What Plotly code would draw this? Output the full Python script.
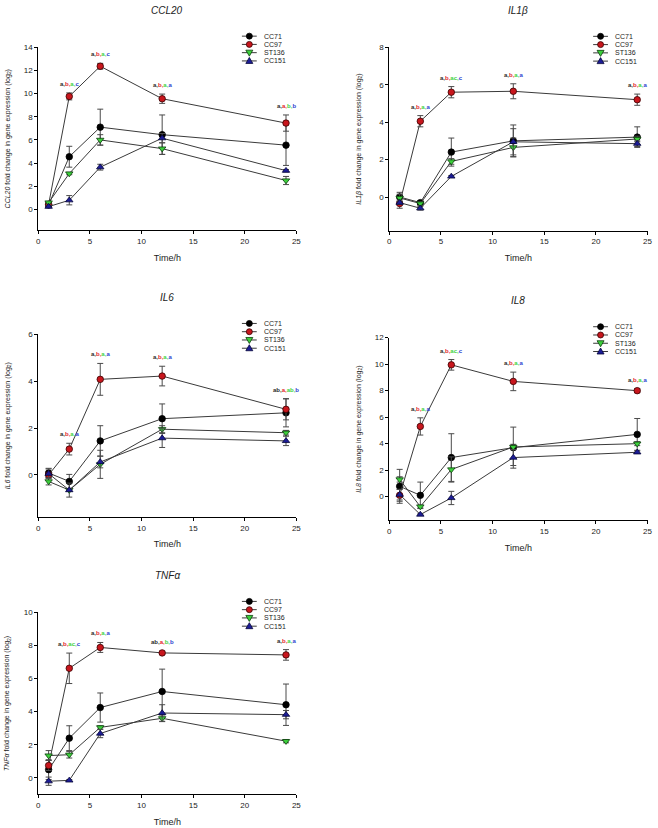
import plotly.graph_objects as go

W, H = 658, 828
FONT = "Liberation Sans, Arial, sans-serif"

times = [1, 3, 6, 12, 24]
strains = ["CC71", "CC97", "ST136", "CC151"]
letter_times = [3, 6, 12, 24]

# ---- CCL20 ----
ccl20_cc71 = [0.40, 4.55, 7.10, 6.45, 5.55]
ccl20_cc71_err = [0.15, 0.90, 1.55, 1.70, 1.75]
ccl20_cc97 = [0.45, 9.75, 12.35, 9.55, 7.45]
ccl20_cc97_err = [0.15, 0.30, 0.25, 0.40, 0.70]
ccl20_st136 = [0.60, 3.10, 6.00, 5.25, 2.50]
ccl20_st136_err = [0.10, 0.10, 0.45, 0.50, 0.35]
ccl20_cc151 = [0.25, 0.80, 3.65, 6.15, 3.35]
ccl20_cc151_err = [0.10, 0.40, 0.25, 0.40, 0.10]
ccl20_letters = [["a", "b", "a", "c"], ["a", "b", "a", "c"], ["a", "b", "a", "a"], ["a", "a", "b", "b"]]

# ---- IL1beta ----
il1b_cc71 = [0.00, -0.30, 2.40, 3.00, 3.20]
il1b_cc71_err = [0.25, 0.10, 0.75, 0.85, 0.55]
il1b_cc97 = [-0.35, 4.05, 5.60, 5.65, 5.20]
il1b_cc97_err = [0.25, 0.30, 0.30, 0.40, 0.30]
il1b_st136 = [-0.05, -0.35, 1.90, 2.65, 3.10]
il1b_st136_err = [0.20, 0.10, 0.15, 0.50, 0.15]
il1b_cc151 = [-0.30, -0.60, 1.10, 2.95, 2.85]
il1b_cc151_err = [0.10, 0.10, 0.05, 0.70, 0.15]
il1b_letters = [["a", "b", "a", "a"], ["a", "b", "ac", "c"], ["a", "b", "a", "a"], ["a", "b", "a", "a"]]

# ---- IL6 ----
il6_cc71 = [0.08, -0.28, 1.45, 2.40, 2.65]
il6_cc71_err = [0.20, 0.30, 0.65, 0.63, 0.60]
il6_cc97 = [0.00, 1.10, 4.08, 4.22, 2.80]
il6_cc97_err = [0.10, 0.25, 0.68, 0.42, 0.45]
il6_st136 = [-0.28, -0.65, 0.45, 1.95, 1.80]
il6_st136_err = [0.15, 0.30, 0.60, 0.15, 0.10]
il6_cc151 = [0.05, -0.65, 0.55, 1.57, 1.45]
il6_cc151_err = [0.20, 0.05, 0.25, 0.40, 0.20]
il6_letters = [["a", "b", "a", "a"], ["a", "b", "a", "a"], ["a", "b", "a", "a"], ["ab", "a", "ab", "b"]]

# ---- IL8 ----
il8_cc71 = [0.78, 0.10, 2.95, 3.70, 4.70]
il8_cc71_err = [1.28, 1.00, 1.80, 1.55, 1.20]
il8_cc97 = [0.10, 5.30, 9.95, 8.70, 8.00]
il8_cc97_err = [0.45, 0.65, 0.40, 0.70, 0.15]
il8_st136 = [1.30, -0.75, 2.05, 3.75, 4.00]
il8_st136_err = [0.20, 0.10, 0.95, 0.20, 0.15]
il8_cc151 = [0.15, -1.35, -0.10, 2.95, 3.35]
il8_cc151_err = [0.40, 0.05, 0.50, 0.60, 0.10]
il8_letters = [["a", "b", "a", "a"], ["a", "b", "ac", "c"], ["a", "b", "a", "a"], ["a", "b", "a", "a"]]

# ---- TNFalpha ----
tnfa_cc71 = [0.50, 2.40, 4.25, 5.22, 4.42]
tnfa_cc71_err = [0.60, 0.75, 0.88, 1.35, 1.25]
tnfa_cc97 = [0.75, 6.62, 7.88, 7.55, 7.43]
tnfa_cc97_err = [0.30, 0.92, 0.30, 0.10, 0.32]
tnfa_st136 = [1.35, 1.40, 3.05, 3.60, 2.22]
tnfa_st136_err = [0.30, 0.20, 0.10, 0.20, 0.10]
tnfa_cc151 = [-0.20, -0.15, 2.68, 3.92, 3.82]
tnfa_cc151_err = [0.25, 0.05, 0.25, 0.50, 0.25]
tnfa_letters = [["a", "b", "ac", "c"], ["a", "b", "a", "a"], ["ab", "a", "b", "b"], ["a", "b", "a", "a"]]

# ---- styles ----
marker_fill = {"CC71": "#000000", "CC97": "#c8161d", "ST136": "#3ccf3c", "CC151": "#1c1c96"}
marker_edge = {"CC71": "#000000", "CC97": "#3a0000", "ST136": "#0b3d0b", "CC151": "#05053a"}
marker_sym = {"CC71": "circle", "CC97": "circle", "ST136": "triangle-down", "CC151": "triangle-up"}
letter_col = {"CC71": "#2b2b2b", "CC97": "#e3262b", "ST136": "#3fd23f", "CC151": "#2f3fd0"}

LEFT = (36.7, 297.5)
RIGHT = (391.5, 652.5)

panels = [
    dict(gene="CCL20", series=[(ccl20_cc71, ccl20_cc71_err), (ccl20_cc97, ccl20_cc97_err),
                                (ccl20_st136, ccl20_st136_err), (ccl20_cc151, ccl20_cc151_err)],
         letters=ccl20_letters, yr=(-1.8, 14), xpx=LEFT, ypx=(43.3, 227.5)),
    dict(gene="IL1β", series=[(il1b_cc71, il1b_cc71_err), (il1b_cc97, il1b_cc97_err),
                               (il1b_st136, il1b_st136_err), (il1b_cc151, il1b_cc151_err)],
         letters=il1b_letters, yr=(-1.8, 8), xpx=RIGHT, ypx=(43.5, 227.8)),
    dict(gene="IL6", series=[(il6_cc71, il6_cc71_err), (il6_cc97, il6_cc97_err),
                              (il6_st136, il6_st136_err), (il6_cc151, il6_cc151_err)],
         letters=il6_letters, yr=(-1.8, 6), xpx=LEFT, ypx=(332.0, 515.5)),
    dict(gene="IL8", series=[(il8_cc71, il8_cc71_err), (il8_cc97, il8_cc97_err),
                              (il8_st136, il8_st136_err), (il8_cc151, il8_cc151_err)],
         letters=il8_letters, yr=(-1.8, 12), xpx=RIGHT, ypx=(335.3, 519.0)),
    dict(gene="TNFα", series=[(tnfa_cc71, tnfa_cc71_err), (tnfa_cc97, tnfa_cc97_err),
                               (tnfa_st136, tnfa_st136_err), (tnfa_cc151, tnfa_cc151_err)],
         letters=tnfa_letters, yr=(-1.0, 10), xpx=LEFT, ypx=(611.3, 794.3)),
]


def px2x(px):
    return px / W


def px2y(py):
    return 1 - py / H


fig = go.Figure()
annotations = []
shapes = []

for i, p in enumerate(panels):
    n = i + 1
    xa = "x" if n == 1 else f"x{n}"
    ya = "y" if n == 1 else f"y{n}"
    xkey = "xaxis" if n == 1 else f"xaxis{n}"
    ykey = "yaxis" if n == 1 else f"yaxis{n}"
    xdom = [px2x(p["xpx"][0]), px2x(p["xpx"][1])]
    ydom = [px2y(p["ypx"][1]), px2y(p["ypx"][0])]

    for s, (vals, errs) in zip(strains, p["series"]):
        fig.add_trace(go.Scatter(
            x=times, y=vals, xaxis=xa, yaxis=ya, name=s, showlegend=False,
            mode="lines+markers", cliponaxis=False,
            line=dict(color="#3a3a3a", width=1),
            marker=dict(symbol=marker_sym[s], size=6.5, color=marker_fill[s],
                        line=dict(color=marker_edge[s], width=0.8)),
            error_y=dict(type="data", array=errs, visible=True, color="#4a4a4a",
                         thickness=1, width=3),
        ))

    fig.layout[xkey] = dict(
        domain=xdom, anchor=ya, range=[0, 25], tick0=0, dtick=5,
        showgrid=False, zeroline=False, showline=True, linecolor="#000", linewidth=1,
        ticks="outside", ticklen=3, tickcolor="#000", tickwidth=1,
        ticklabeloverflow="allow",
        tickfont=dict(family=FONT, size=8, color="#222"),
        title=dict(text="Time/h", font=dict(family=FONT, size=9, color="#222"), standoff=9),
    )
    fig.layout[ykey] = dict(
        domain=ydom, anchor=xa, range=list(p["yr"]), tick0=0, dtick=2,
        showgrid=False, zeroline=False, showline=True, linecolor="#000", linewidth=1,
        ticks="outside", ticklen=3, tickcolor="#000", tickwidth=1,
        ticklabeloverflow="allow",
        tickfont=dict(family=FONT, size=8, color="#222"),
    )

    # y-axis title
    annotations.append(dict(
        text=f"<i>{p['gene']}</i> fold change in gene expression (log<sub>2</sub>)",
        xref="paper", yref="paper", x=px2x(p["xpx"][0] - 31), y=(ydom[0] + ydom[1]) / 2,
        xanchor="center", yanchor="middle", textangle=-90, showarrow=False,
        font=dict(family=FONT, size=7, color="#222"),
    ))
    # panel title
    annotations.append(dict(
        text=f"<i>{p['gene']}</i>", xref="paper", yref="paper",
        x=(xdom[0] + xdom[1]) / 2, y=ydom[1], yshift=37,
        xanchor="center", yanchor="middle", showarrow=False,
        font=dict(family=FONT, size=10, color="#222"),
    ))
    # significance letters
    for t, lets in zip(letter_times, p["letters"]):
        idx = times.index(t)
        top = max(v[idx] + e[idx] for v, e in p["series"])
        parts = []
        for k, (s, l) in enumerate(zip(strains, lets)):
            sep = "," if k < len(lets) - 1 else ""
            parts.append(f"<span style='color:{letter_col[s]}'>{l}{sep}</span>")
        annotations.append(dict(
            text="<b>" + "".join(parts) + "</b>", xref=xa, yref=ya, x=t, y=top,
            xanchor="center", yanchor="bottom", yshift=4, showarrow=False,
            font=dict(family=FONT, size=6),
        ))

    # compact legend, drawn with shapes and text
    R = p["xpx"][1]
    T = p["ypx"][0]
    for k, s in enumerate(strains):
        cy = T - 11 + 8.3 * k
        shapes.append(dict(type="line", xref="paper", yref="paper",
                           x0=px2x(R - 55), x1=px2x(R - 40), y0=px2y(cy), y1=px2y(cy),
                           line=dict(color="#3a3a3a", width=1)))
        cx = R - 47.5
        common = dict(xref="paper", yref="paper", xsizemode="pixel", ysizemode="pixel",
                      xanchor=px2x(cx), yanchor=px2y(cy), fillcolor=marker_fill[s],
                      line=dict(color=marker_edge[s], width=0.8))
        if marker_sym[s] == "circle":
            shapes.append(dict(type="circle", x0=-3, x1=3, y0=-3, y1=3, **common))
        elif marker_sym[s] == "triangle-up":
            shapes.append(dict(type="path", path="M -3.5,-2.5 L 3.5,-2.5 L 0,3.5 Z", **common))
        else:
            shapes.append(dict(type="path", path="M -3.5,2.5 L 3.5,2.5 L 0,-3.5 Z", **common))
        annotations.append(dict(
            text=s, xref="paper", yref="paper", x=px2x(R - 35), y=px2y(cy),
            xanchor="left", yanchor="middle", showarrow=False,
            font=dict(family=FONT, size=7, color="#222"),
        ))

fig.update_layout(
    width=W, height=H, margin=dict(l=0, r=0, t=0, b=0),
    paper_bgcolor="white", plot_bgcolor="white",
    showlegend=False, annotations=annotations, shapes=shapes,
    font=dict(family=FONT),
)

# remove the default 8 px page margin so the figure fills the window exactly
fig.write_html(
    "out.html",
    config={"displayModeBar": False},
    post_script="document.body.style.margin='0';document.body.style.overflow='hidden';",
)
